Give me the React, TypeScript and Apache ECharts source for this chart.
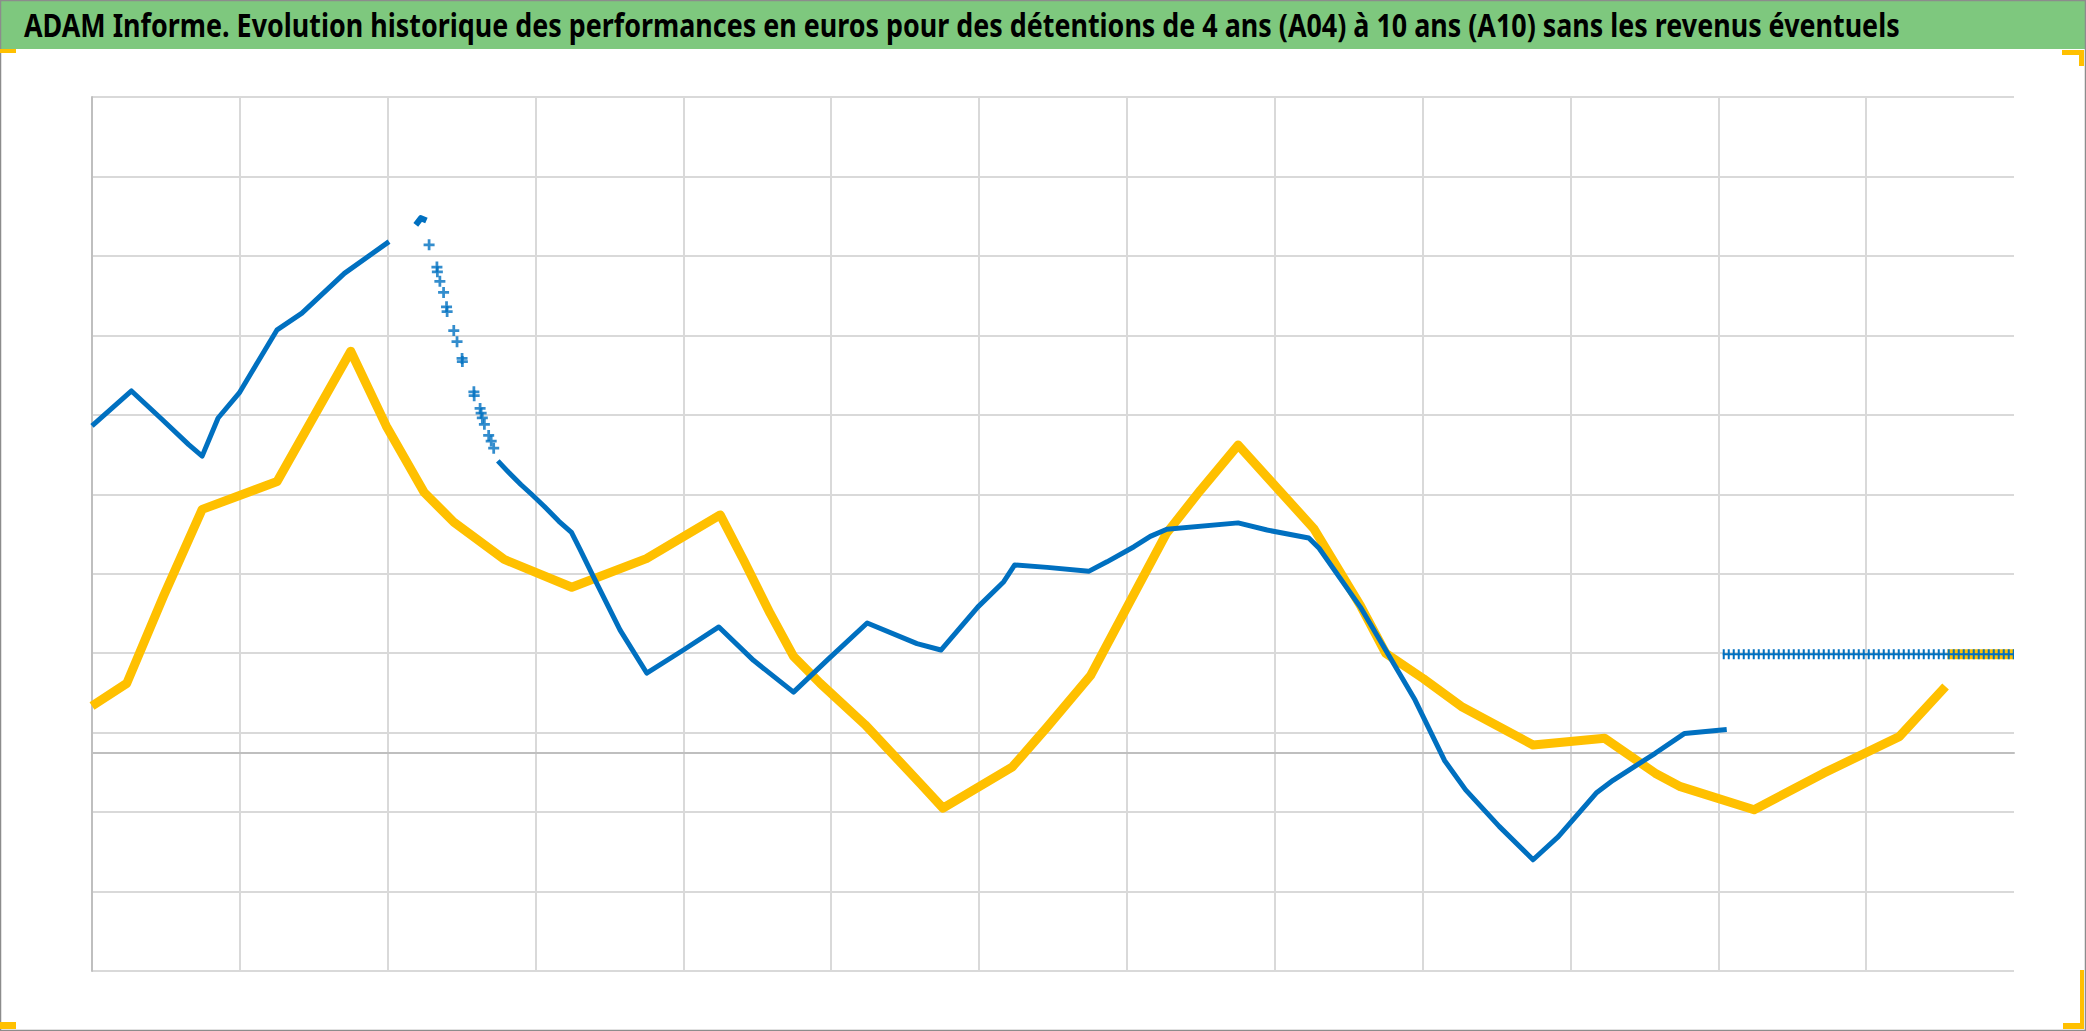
import React, { useEffect, useRef } from "react";
import * as echarts from "echarts";

// x: position along the (unlabelled) time axis, 0..13 ; y: performance value
const TITLE =
  "ADAM Informe. Evolution historique des performances en euros pour des détentions de 4 ans (A04) à 10 ans (A10) sans les revenus éventuels";

const X_MIN = 0;
const X_MAX = 13;
const Y_MIN = -0.55;
const Y_MAX = 1.65;
const GRID_STEPS = 11;

const yellowMain: [number, number][] = [
  [0, 0.117], [0.235, 0.174], [0.484, 0.394], [0.745, 0.612], [1.252, 0.682],
  [1.75, 1.01], [1.99, 0.822], [2.248, 0.654], [2.447, 0.58], [2.788, 0.486],
  [3.245, 0.416], [3.75, 0.488], [4.249, 0.598], [4.408, 0.484], [4.587, 0.35],
  [4.745, 0.242], [4.926, 0.174], [5.229, 0.07], [5.602, -0.078], [5.756, -0.14],
  [6.226, -0.036], [6.461, 0.064], [6.755, 0.194], [6.989, 0.358], [7.268, 0.552],
  [7.497, 0.66], [7.752, 0.774], [8.263, 0.564], [8.579, 0.37], [8.75, 0.25],
  [9.005, 0.186], [9.262, 0.116], [9.747, 0.019], [10.231, 0.036], [10.573, -0.052],
  [10.744, -0.086], [11.242, -0.144], [11.712, -0.052], [12.224, 0.04], [12.537, 0.166],
];
const yellowFlat: [number, number][] = [[12.55, 0.247], [13.0, 0.247]];

const blueStart: [number, number][] = [
  [0, 0.822], [0.267, 0.91], [0.469, 0.84], [0.654, 0.775], [0.745, 0.746],
  [0.853, 0.842], [0.996, 0.905], [1.11, 0.976], [1.252, 1.064], [1.42, 1.106],
  [1.707, 1.206], [2.009, 1.286],
];
const bluePeak: [number, number][] = [[2.19, 1.328], [2.225, 1.345], [2.262, 1.339]];
const blueSparse: [number, number][] = [
  [2.28, 1.278], [2.333, 1.222], [2.336, 1.21], [2.353, 1.186], [2.378, 1.158],
  [2.398, 1.122], [2.402, 1.11], [2.447, 1.062], [2.469, 1.034], [2.503, 0.992],
  [2.505, 0.984], [2.583, 0.908], [2.585, 0.898], [2.625, 0.866], [2.632, 0.854],
  [2.64, 0.842], [2.654, 0.826], [2.683, 0.798], [2.7, 0.784], [2.717, 0.766],
];
const blueMain: [number, number][] = [
  [2.745, 0.734], [2.816, 0.706], [2.902, 0.674], [2.973, 0.65], [3.058, 0.62],
  [3.158, 0.582], [3.243, 0.554], [3.3, 0.512], [3.392, 0.442], [3.572, 0.308],
  [3.752, 0.2], [4.0, 0.258], [4.24, 0.316], [4.474, 0.232], [4.745, 0.152],
  [4.971, 0.232], [5.243, 0.326], [5.58, 0.274], [5.742, 0.258], [5.991, 0.366],
  [6.167, 0.43], [6.241, 0.472], [6.461, 0.466], [6.741, 0.456], [6.865, 0.48],
  [7.048, 0.518], [7.158, 0.544], [7.27, 0.562], [7.752, 0.578], [7.948, 0.56],
  [8.23, 0.54], [8.3, 0.514], [8.579, 0.366], [8.75, 0.258], [8.949, 0.132],
  [9.148, -0.02], [9.291, -0.094], [9.518, -0.186], [9.747, -0.27], [9.918, -0.212],
  [10.174, -0.102], [10.288, -0.07], [10.573, -0.002], [10.772, 0.048], [11.057, 0.058],
];
const blueFlat: [number, number][] = [[11.03, 0.247], [13.0, 0.247]];

const YELLOW = "#FFC000";
const BLUE = "#0070C0";
const GRID_COLOR = "#d9d9d9";
const AXIS_COLOR = "#bfbfbf";
const PLUS = "path://M3,0H5V3H8V5H5V8H3V5H0V3H3Z";

export default function App() {
  const ref = useRef<HTMLDivElement>(null);

  useEffect(() => {
    if (!ref.current) return;
    const chart = echarts.init(ref.current, undefined, { renderer: "svg" });

    const lineSeries = (data: [number, number][], color: string, width: number, z: number) => ({
      type: "line",
      data,
      xAxisIndex: 0,
      yAxisIndex: 0,
      symbol: "none",
      smooth: false,
      z,
      lineStyle: { color, width, join: "round", cap: "butt" },
      silent: true,
    });

    chart.setOption({
      animation: false,
      backgroundColor: "#ffffff",
      grid: { left: 92, top: 97, width: 1922, height: 874, containLabel: false, outerBoundsMode: "none" },
      xAxis: {
        type: "value",
        min: X_MIN,
        max: X_MAX,
        interval: 1,
        axisLabel: { show: false },
        axisTick: { show: false },
        axisLine: { show: true, onZero: true, onZeroAxisIndex: 0, lineStyle: { color: AXIS_COLOR, width: 2 } },
        splitLine: { show: true, showMinLine: false, showMaxLine: false, lineStyle: { color: GRID_COLOR, width: 2 } },
      },
      yAxis: [
        {
          type: "value",
          min: Y_MIN,
          max: Y_MAX,
          position: "right",
          axisLabel: { show: false },
          axisTick: { show: false },
          axisLine: { show: false },
          splitLine: { show: false },
        },
        {
          type: "value",
          min: 0,
          max: GRID_STEPS,
          interval: 1,
          position: "left",
          axisLabel: { show: false },
          axisTick: { show: false },
          axisLine: { show: true, onZero: false, lineStyle: { color: AXIS_COLOR, width: 2 } },
          splitLine: { show: true, lineStyle: { color: GRID_COLOR, width: 2 } },
        },
      ],
      graphic: [
        { type: "rect", shape: { x: 0, y: 0, width: 2086, height: 49 }, style: { fill: "#7ec87e" }, z: 1 },
        {
          type: "text",
          x: 24,
          y: 25,
          scaleX: 0.84,
          style: {
            text: TITLE,
            fontSize: 32,
            fontWeight: "bold",
            fontFamily: "'Noto Sans', 'Open Sans', sans-serif",
            fill: "#000000",
            align: "left",
            verticalAlign: "middle",
          },
          z: 2,
        },
        { type: "rect", shape: { x: 0.5, y: 0.5, width: 2085, height: 1030 }, style: { fill: "none", stroke: "#8c8c8c", lineWidth: 1.5 }, z: 3 },
        { type: "rect", shape: { x: 0, y: 49, width: 16, height: 4 }, style: { fill: YELLOW }, z: 4 },
        { type: "rect", shape: { x: 2062, y: 50, width: 22, height: 5 }, style: { fill: YELLOW }, z: 4 },
        { type: "rect", shape: { x: 2079, y: 50, width: 5, height: 16 }, style: { fill: YELLOW }, z: 4 },
        { type: "rect", shape: { x: 0, y: 1022, width: 16, height: 7 }, style: { fill: YELLOW }, z: 4 },
        { type: "rect", shape: { x: 2063, y: 1023, width: 21, height: 6 }, style: { fill: YELLOW }, z: 4 },
        { type: "rect", shape: { x: 2080, y: 970, width: 4, height: 59 }, style: { fill: YELLOW }, z: 4 },
      ],
      series: [
        lineSeries(yellowMain, YELLOW, 9, 2),
        lineSeries(yellowFlat, YELLOW, 10, 2),
        lineSeries(blueStart, BLUE, 5, 3),
        lineSeries(bluePeak, BLUE, 6, 3),
        {
          type: "scatter",
          data: blueSparse,
          xAxisIndex: 0,
          yAxisIndex: 0,
          symbol: PLUS,
          symbolSize: 11,
          itemStyle: { color: BLUE },
          z: 3,
          silent: true,
        },
        lineSeries(blueMain, BLUE, 5, 3),
        lineSeries(blueFlat, BLUE, 2, 4),
        {
          type: "line",
          data: blueFlat,
          xAxisIndex: 0,
          yAxisIndex: 0,
          symbol: "none",
          z: 4,
          silent: true,
          lineStyle: { color: BLUE, width: 10, type: [2, 3] },
        },
      ],
    });

    return () => chart.dispose();
  }, []);

  return (
    <div
      ref={ref}
      style={{ position: "fixed", left: 0, top: 0, width: 2086, height: 1031, background: "#ffffff" }}
    />
  );
}
